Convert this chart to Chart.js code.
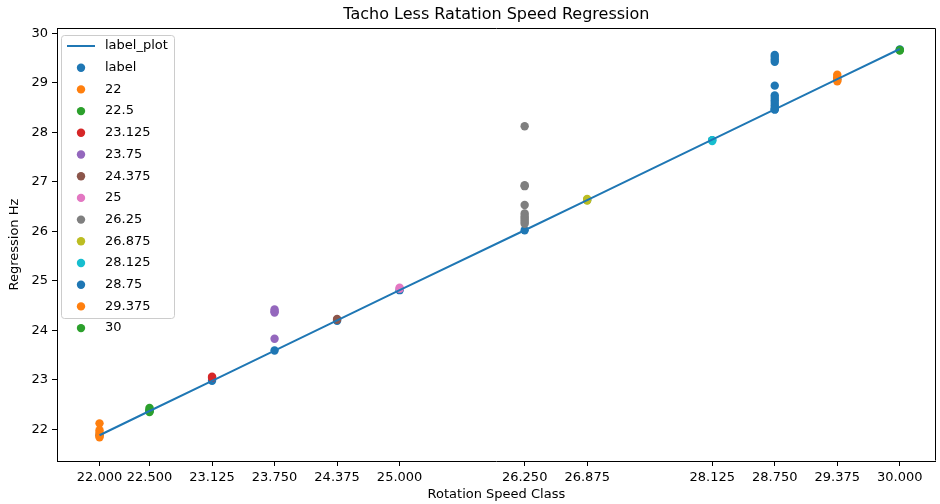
<!DOCTYPE html>
<html><head><meta charset="utf-8">
<script src="https://cdn.jsdelivr.net/npm/chart.js@4.4.0/dist/chart.umd.min.js"></script>
<style>html,body{margin:0;padding:0;background:#fff}#wrap{width:940px;height:504px}</style>
</head><body><div id="wrap"><canvas id="c" width="940" height="504"></canvas></div>
<script>
// ---- data ----
const classes = [22, 22.5, 23.125, 23.75, 24.375, 25, 26.25, 26.875, 28.125, 28.75, 29.375, 30];
const classNames = ['22', '22.5', '23.125', '23.75', '24.375', '25', '26.25', '26.875', '28.125', '28.75', '29.375', '30'];
const xTickLabels = ['22.000', '22.500', '23.125', '23.750', '24.375', '25.000', '26.250', '26.875', '28.125', '28.750', '29.375', '30.000'];
const yTicks = [22, 23, 24, 25, 26, 27, 28, 29, 30];
const yTickLabels = ['22', '23', '24', '25', '26', '27', '28', '29', '30'];
const regressionLine = [21.88, 22.37, 22.98, 23.59, 24.20, 24.81, 26.02, 26.63, 27.85, 28.46, 29.07, 29.68];
const labelValues = [21.88, 22.37, 22.98, 23.59, 24.19, 24.81, 26.02, 26.63, 27.84, 28.46, 29.07, 29.67];
const hz22 = [22.12, 21.98, 21.93, 21.88, 21.84];
const hz22_5 = [22.43, 22.40, 22.37, 22.35];
const hz23_125 = [23.06, 23.04];
const hz23_75 = [24.42, 24.38, 24.36, 23.83];
const hz24_375 = [24.23, 24.21];
const hz25 = [24.86, 24.84];
const hz26_25 = [28.12, 26.93, 26.91, 26.53, 26.36, 26.31, 26.27, 26.23, 26.19, 26.15];
const hz26_875 = [26.65, 26.62];
const hz28_125 = [27.84, 27.82];
const hz28_75 = [29.56, 29.52, 29.47, 29.42, 28.94, 28.74, 28.69, 28.64, 28.59, 28.54, 28.49, 28.46];
const hz29_375 = [29.16, 29.11, 29.06, 29.03];
const hz30 = [29.66, 29.65];
const classSeries = [hz22, hz22_5, hz23_125, hz23_75, hz24_375, hz25, hz26_25, hz26_875, hz28_125, hz28_75, hz29_375, hz30];
const palette = ['#1f77b4', '#ff7f0e', '#2ca02c', '#d62728', '#9467bd', '#8c564b', '#e377c2', '#7f7f7f', '#bcbd22', '#17becf'];

const FONT = 'DejaVu Sans';
const datasets = [];
datasets.push({
  type: 'line', label: 'label_plot',
  data: classes.map((x, i) => ({x: x, y: regressionLine[i]})),
  borderColor: '#1f77b4', backgroundColor: '#1f77b4', borderWidth: 2,
  pointRadius: 0, fill: false, tension: 0, order: 0
});
datasets.push({
  type: 'scatter', label: 'label',
  data: classes.map((x, i) => ({x: x, y: labelValues[i]})),
  backgroundColor: palette[0], borderColor: palette[0], pointRadius: 4.2, pointBorderWidth: 0, order: 100
});
classSeries.forEach((vals, k) => {
  const col = palette[(k + 1) % 10];
  datasets.push({
    type: 'scatter', label: classNames[k],
    data: vals.map(v => ({x: classes[k], y: v})),
    backgroundColor: col, borderColor: col, pointRadius: 4.2, pointBorderWidth: 0, order: 99 - k
  });
});

const framePlugin = {
  id: 'frame',
  afterDatasetsDraw(chart) {
    const {ctx, chartArea: a} = chart;
    ctx.save();
    ctx.strokeStyle = '#000'; ctx.lineWidth = 1;
    ctx.beginPath();
    const l = Math.round(a.left) + 0.5, r = Math.min(Math.round(a.right), 939) - 0.5, t = Math.round(a.top) + 0.5, b = Math.round(a.bottom) - 0.5;
    ctx.moveTo(l, t); ctx.lineTo(r, t); ctx.lineTo(r, b);
    ctx.stroke();
    ctx.restore();
  },
  afterDraw(chart) {
    const ctx = chart.ctx;
    const bx = 61.5, by = 35.5, bw = 113, bh = 283, rad = 3;
    ctx.save();
    ctx.beginPath();
    ctx.moveTo(bx + rad, by);
    ctx.lineTo(bx + bw - rad, by); ctx.quadraticCurveTo(bx + bw, by, bx + bw, by + rad);
    ctx.lineTo(bx + bw, by + bh - rad); ctx.quadraticCurveTo(bx + bw, by + bh, bx + bw - rad, by + bh);
    ctx.lineTo(bx + rad, by + bh); ctx.quadraticCurveTo(bx, by + bh, bx, by + bh - rad);
    ctx.lineTo(bx, by + rad); ctx.quadraticCurveTo(bx, by, bx + rad, by);
    ctx.closePath();
    ctx.fillStyle = 'rgba(255,255,255,0.8)'; ctx.fill();
    ctx.strokeStyle = '#cccccc'; ctx.lineWidth = 1; ctx.stroke();
    ctx.font = '13px "' + FONT + '"';
    ctx.textBaseline = 'middle'; ctx.textAlign = 'left';
    chart.data.datasets.forEach((ds, i) => {
      const y = 46 + i * 21.7;
      if (ds.type === 'line') {
        ctx.strokeStyle = ds.borderColor; ctx.lineWidth = 2;
        ctx.beginPath(); ctx.moveTo(67, y); ctx.lineTo(95, y); ctx.stroke();
      } else {
        ctx.fillStyle = ds.backgroundColor;
        ctx.beginPath(); ctx.arc(81, y, 4.2, 0, Math.PI * 2); ctx.fill();
      }
      ctx.fillStyle = '#000';
      ctx.fillText(ds.label, 105, y);
    });
    ctx.restore();
  }
};

new Chart(document.getElementById('c'), {
  type: 'scatter',
  data: {datasets: datasets},
  plugins: [framePlugin],
  options: {
    responsive: false, animation: false, devicePixelRatio: 1,
    layout: {padding: {left: 0, right: 0, top: 0, bottom: 0}},
    plugins: {
      legend: {display: false},
      tooltip: {enabled: false},
      title: {display: true, fullSize: false, text: 'Tacho Less Ratation Speed Regression', color: '#000',
        font: {family: FONT, size: 16, weight: 'normal'}, padding: {top: 5, bottom: 4}}
    },
    scales: {
      x: {
        type: 'linear', min: 21.575, max: 30.36,
        afterBuildTicks: s => { s.ticks = classes.map(v => ({value: v})); },
        afterFit: s => { s.height = 43; },
        ticks: {autoSkip: false, maxRotation: 0, minRotation: 0, color: '#000', padding: 4,
          font: {family: FONT, size: 13}, callback: (v, i) => xTickLabels[i]},
        grid: {display: true, drawOnChartArea: false, drawTicks: true, tickLength: 5, color: '#000'},
        border: {display: true, color: '#000', width: 1},
        title: {display: true, text: 'Rotation Speed Class', color: '#000', font: {family: FONT, size: 13}, padding: {top: 0, bottom: 2}}
      },
      y: {
        type: 'linear', min: 21.36, max: 30.10,
        afterBuildTicks: s => { s.ticks = yTicks.map(v => ({value: v})); },
        afterFit: s => { s.width = 57; },
        ticks: {autoSkip: false, color: '#000', padding: 4, font: {family: FONT, size: 13}, callback: (v, i) => yTickLabels[i]},
        grid: {display: true, drawOnChartArea: false, drawTicks: true, tickLength: 5, color: '#000'},
        border: {display: true, color: '#000', width: 1},
        title: {display: true, text: 'Regression Hz', color: '#000', font: {family: FONT, size: 13}, padding: {top: 7, bottom: 0}}
      }
    }
  }
});
</script></body></html>
